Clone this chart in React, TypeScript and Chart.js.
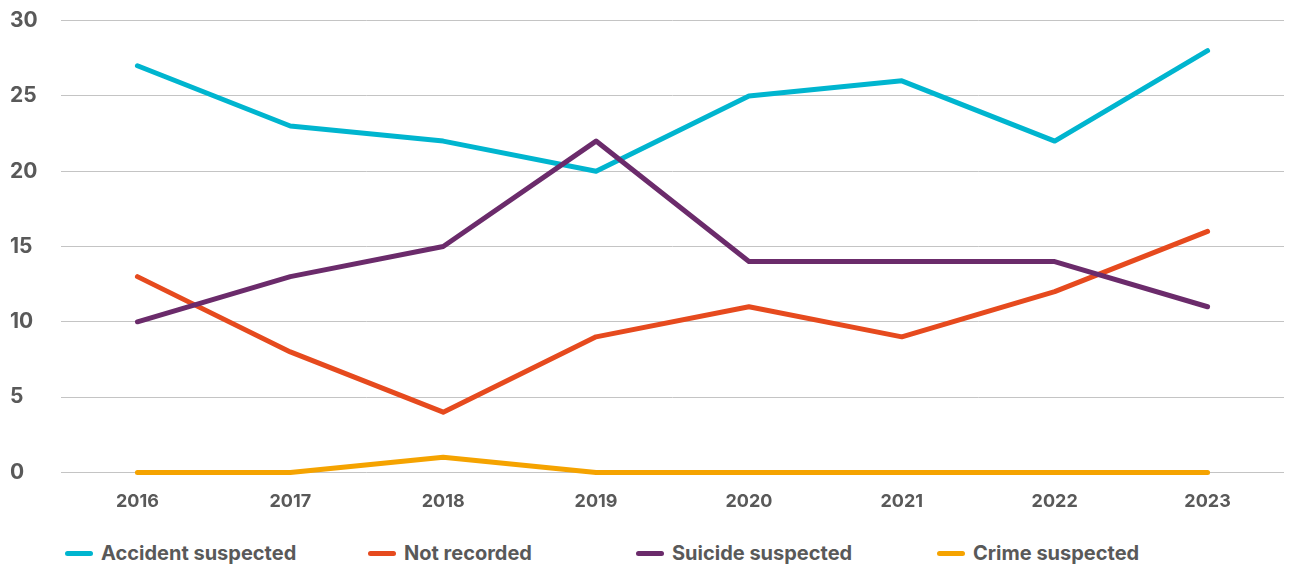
import React, { useEffect, useRef } from "react";
import { Chart, registerables } from "chart.js";

Chart.register(...registerables);

const years = ["2016", "2017", "2018", "2019", "2020", "2021", "2022", "2023"];
const accidentSuspected = [27, 23, 22, 20, 25, 26, 22, 28];
const notRecorded = [13, 8, 4, 9, 11, 9, 12, 16];
const suicideSuspected = [10, 13, 15, 22, 14, 14, 14, 11];
const crimeSuspected = [0, 0, 1, 0, 0, 0, 0, 0];
const yTicks = [0, 5, 10, 15, 20, 25, 30];

const seriesNames = ["Accident suspected", "Not recorded", "Suicide suspected", "Crime suspected"];
const seriesColors = ["#00B5CF", "#E64A1E", "#6B2B6B", "#F5A300"];
const legendLefts = [57, 360, 628, 929];

const FONT = "Inter, 'Liberation Sans', Arial, sans-serif";
const TEXT = "#595959";

export default function App() {
  const ref = useRef<HTMLCanvasElement | null>(null);

  useEffect(() => {
    if (!ref.current) return;
    const values = [accidentSuspected, notRecorded, suicideSuspected, crimeSuspected];
    const chart = new Chart(ref.current, {
      type: "line",
      data: {
        labels: years,
        datasets: values.map((v, i) => ({
          label: seriesNames[i],
          data: v,
          borderColor: seriesColors[i],
          backgroundColor: seriesColors[i],
          borderWidth: 5,
          pointRadius: 0,
          pointHoverRadius: 0,
          tension: 0,
          clip: false as any,
          borderCapStyle: "round" as const,
          borderJoinStyle: "round" as const,
          fill: false,
          order: i === 3 ? 0 : 4 - i,
        })),
      },
      options: {
        animation: false,
        responsive: true,
        maintainAspectRatio: false,
        layout: { padding: { top: 1, right: 2, bottom: 0, left: 2 } },
        plugins: {
          legend: { display: false },
          tooltip: { enabled: false },
        },
        scales: {
          x: {
            offset: true,
            grid: { display: false, drawTicks: false },
            border: { display: false },
            ticks: {
              color: TEXT,
              padding: 18,
              font: { family: FONT, size: 18, weight: "bold" },
            },
          },
          y: {
            min: 0,
            max: 30,
            afterBuildTicks: (scale: any) => {
              scale.ticks = yTicks.map((v) => ({ value: v }));
            },
            afterFit: (scale: any) => {
              scale.width = 51;
            },
            grid: { color: "#c4c4c4", lineWidth: 1, drawTicks: false },
            border: { display: false },
            ticks: {
              color: TEXT,
              crossAlign: "far",
              padding: 0,
              font: { family: FONT, size: 21, weight: "bold" },
            },
          },
        },
      },
    });
    return () => chart.destroy();
  }, []);

  return (
    <div style={{ position: "relative", width: 1278, height: 557, fontFamily: FONT }}>
      <div style={{ position: "absolute", left: 0, top: 0, width: 1278, height: 522 }}>
        <canvas ref={ref} />
      </div>
      {seriesNames.map((name, i) => (
        <div
          key={name}
          style={{
            position: "absolute",
            left: legendLefts[i],
            top: 533,
            height: 24,
            display: "flex",
            alignItems: "center",
            whiteSpace: "nowrap",
          }}
        >
          <span
            style={{
              display: "inline-block",
              width: 28,
              height: 5,
              borderRadius: 3,
              background: seriesColors[i],
              marginRight: 8,
            }}
          />
          <span style={{ color: TEXT, fontWeight: 700, fontSize: 20 }}>{name}</span>
        </div>
      ))}
    </div>
  );
}
